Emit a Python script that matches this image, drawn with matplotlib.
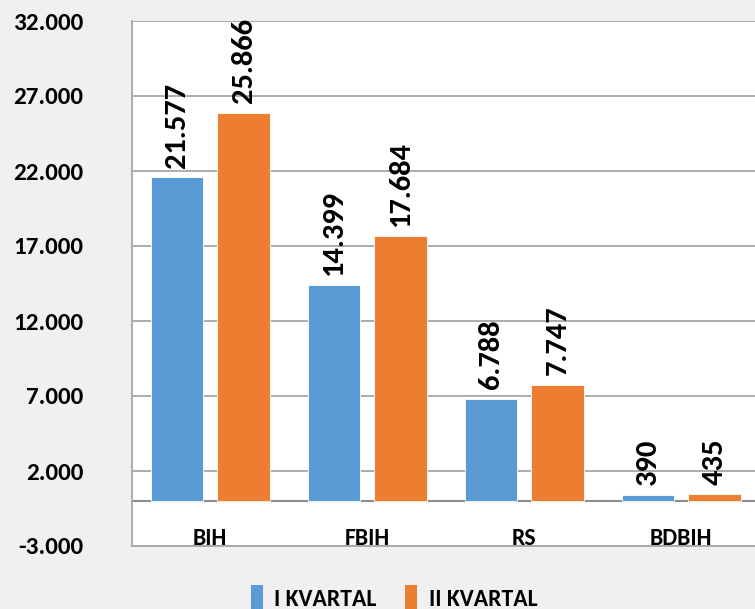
import matplotlib
matplotlib.use("Agg")
import matplotlib.pyplot as plt
import numpy as np
from matplotlib.patches import Patch

categories = ["BIH", "FBIH", "RS", "BDBIH"]
series_names = ["I KVARTAL", "II KVARTAL"]
q1 = [21577, 14399, 6788, 390]
q2 = [25866, 17684, 7747, 435]
q1_labels = ["21.577", "14.399", "6.788", "390"]
q2_labels = ["25.866", "17.684", "7.747", "435"]
y_ticks = [-3000, 2000, 7000, 12000, 17000, 22000, 27000, 32000]
y_tick_labels = ["-3.000", "2.000", "7.000", "12.000", "17.000", "22.000", "27.000", "32.000"]

BLUE = "#5B9BD5"
ORANGE = "#ED7D31"
BG = "#f0f0f0"
GRID = "#a6a6a6"
FONT = "Carlito"

fig = plt.figure(figsize=(7.55, 6.09), dpi=100, facecolor=BG)
ax = fig.add_axes([131.8 / 755, 1 - 546 / 609, 628 / 755, (546 - 21) / 609])
ax.set_facecolor("white")

x = np.arange(len(categories))
w = 0.335
off = 0.212
b1 = ax.bar(x - off, q1, w, color=BLUE, edgecolor="white", linewidth=0.6, zorder=3)
b2 = ax.bar(x + off, q2, w, color=ORANGE, edgecolor="white", linewidth=0.6, zorder=3)

for bars, labs in ((b1, q1_labels), (b2, q2_labels)):
    for rect, lab in zip(bars, labs):
        ax.annotate(lab, (rect.get_x() + rect.get_width() / 2, rect.get_height()),
                    xytext=(0, 7), textcoords="offset points", rotation=90,
                    ha="center", va="bottom", fontsize=22, fontweight="bold",
                    family=FONT, color="black", zorder=4)

ax.set_xlim(-0.5, len(categories) - 0.5)
ax.set_ylim(-3000, 32000)
ax.set_yticks(y_ticks)
ax.set_yticklabels(y_tick_labels, fontsize=18, fontweight="bold", family=FONT)
ax.tick_params(axis="y", length=0, pad=35)
ax.set_xticks([])
for c, name in zip(x, categories):
    ax.text(c, -2950, name, ha="center", va="baseline", fontsize=17,
            fontweight="bold", family=FONT, zorder=4)

ax.grid(axis="y", color=GRID, linewidth=1.3, zorder=1)
ax.axhline(0, color="#8c8c8c", linewidth=1.5, zorder=2)
for s in ("top", "right"):
    ax.spines[s].set_visible(False)
ax.spines["left"].set_color(GRID)
ax.spines["left"].set_linewidth(1.3)
ax.spines["bottom"].set_color(GRID)
ax.spines["bottom"].set_linewidth(1.3)

handles = [Patch(facecolor=BLUE), Patch(facecolor=ORANGE)]
fig.legend(handles, series_names, loc="center", bbox_to_anchor=(394 / 755, 1 - 598 / 609),
           ncol=2, frameon=False, handlelength=0.5, handleheight=1.3, handletextpad=0.5,
           columnspacing=1.2, borderpad=0,
           prop={"family": FONT, "weight": "bold", "size": 17})

fig.savefig("out.png", dpi=100, facecolor=BG)
